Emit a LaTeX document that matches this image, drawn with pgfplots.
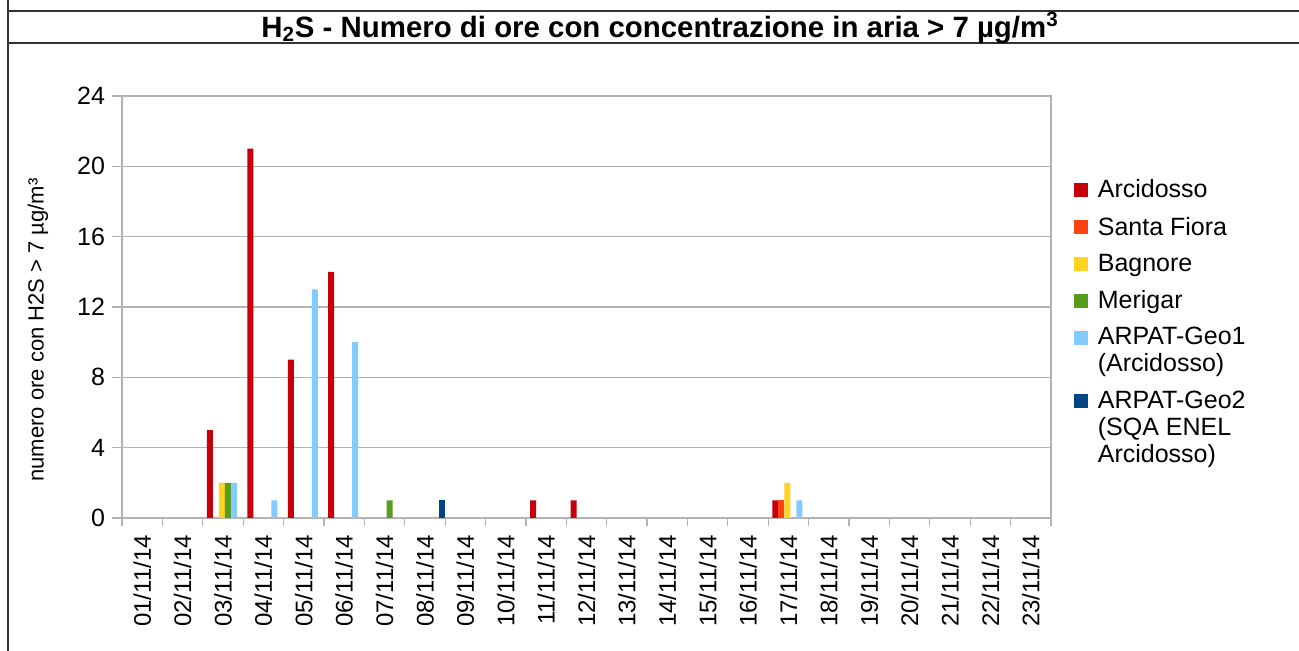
\documentclass[border=0pt]{standalone}
\usepackage{pgfplots}
\pgfplotsset{compat=1.18}
\usepackage{fontspec}
\setmainfont{Liberation Sans}
\definecolor{cArc}{HTML}{C5000B}
\definecolor{cSF}{HTML}{FF420E}
\definecolor{cBag}{HTML}{FFD320}
\definecolor{cMer}{HTML}{579D1C}
\definecolor{cGeoA}{HTML}{83CAFF}
\definecolor{cGeoB}{HTML}{004586}
\definecolor{gridc}{HTML}{B3B3B3}
\begin{document}
\begin{tikzpicture}
\path[use as bounding box] (0,0) rectangle (649.5pt,325.5pt);
\draw[black!80, line width=0.75pt] (4pt,0) -- (4pt,325.5pt);
\draw[black!80, line width=0.75pt] (4pt,320pt) -- (649.5pt,320pt);
\draw[black!80, line width=0.75pt] (4pt,304pt) -- (649.5pt,304pt);
\node[font=\bfseries\fontsize{14.7}{16}\selectfont] at (330pt,311.5pt) {H\textsubscript{2}S - Numero di ore con concentrazione in aria > 7 µg/m\textsuperscript{3}};
\node[rotate=90, font=\fontsize{11}{13}\selectfont] at (19pt,160.5pt) {numero ore con H2S > 7 µg/m³};
\begin{axis}[
  at={(61pt,66.5pt)}, anchor=south west,
  scale only axis, width=464.5pt, height=211pt,
  xmin=0.5, xmax=23.5, ymin=0, ymax=24,
  ytick={0,4,...,24},
  ymajorgrids, grid style={draw=gridc, line width=0.6pt},
  axis line style={draw=gridc, line width=0.6pt},
  tick style={draw=gridc, line width=0.6pt},
  tick align=outside, xtick pos=bottom, ytick pos=left,
  major tick length=5pt, minor tick length=4pt,
  xtick={1,...,23},
  xticklabels={01/11/14,02/11/14,03/11/14,04/11/14,05/11/14,06/11/14,07/11/14,08/11/14,09/11/14,10/11/14,11/11/14,12/11/14,13/11/14,14/11/14,15/11/14,16/11/14,17/11/14,18/11/14,19/11/14,20/11/14,21/11/14,22/11/14,23/11/14},
  major x tick style={draw=none},
  minor xtick={0.5,1.5,...,23.5},
  x tick label style={rotate=90, anchor=east, font=\fontsize{12}{14}\selectfont},
  y tick label style={font=\fontsize{12.5}{14}\selectfont},
  /pgf/number format/assume math mode=true,
  ybar=0pt, bar width=3pt,
  legend image code/.code={\fill[#1] (0pt,-3.5pt) rectangle (7pt,3.5pt);},
  legend style={draw=none, fill=none, at={(1.0177,0.8213)}, anchor=north west,
    font=\fontsize{12.5}{13.5}\selectfont, row sep=4pt, column sep=3pt,
    nodes={align=left}},
  legend cell align=left,
]
\addplot[fill=cArc, draw=none, bar shift=-6.5pt] coordinates {(3,5) (4,21) (5,9) (6,14) (11,1) (12,1) (17,1)};
\addplot[fill=cSF, draw=none, bar shift=-3.5pt] coordinates {(17,1)};
\addplot[fill=cBag, draw=none, bar shift=-0.5pt] coordinates {(3,2) (17,2)};
\addplot[fill=cMer, draw=none, bar shift=2.5pt] coordinates {(3,2) (7,1)};
\addplot[fill=cGeoA, draw=none, bar shift=5.5pt,
  legend image code/.code={\fill[cGeoA] (0pt,3.25pt) rectangle (7pt,10.25pt);}] coordinates {(3,2) (4,1) (5,13) (6,10) (17,1)};
\addplot[fill=cGeoB, draw=none, bar shift=8.5pt,
  legend image code/.code={\fill[cGeoB] (0pt,10pt) rectangle (7pt,17pt);}] coordinates {(8,1)};
\legend{Arcidosso, Santa Fiora, Bagnore, Merigar, {ARPAT-Geo1\\(Arcidosso)}, {ARPAT-Geo2\\(SQA ENEL\\Arcidosso)}}
\end{axis}
\end{tikzpicture}
\end{document}
